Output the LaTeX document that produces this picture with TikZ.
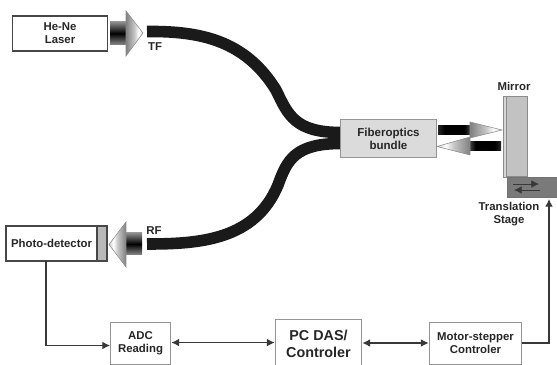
\documentclass[tikz,border=0pt]{standalone}
\usepackage{fontspec}
\usetikzlibrary{arrows.meta}
\setmainfont{Liberation Sans}
\definecolor{FiberBlack}{RGB}{26, 26, 26}
\definecolor{LabelInk}{RGB}{38, 38, 38}
\pgfdeclarehorizontalshading{conehead}{100bp}{color(0bp)=(black!50); color(25bp)=(black!50); color(50bp)=(black!22); color(62bp)=(white); color(72bp)=(black!15); color(75bp)=(black!30); color(100bp)=(black!30)}
\pgfdeclareverticalshading{shaftdark}{100bp}{color(0bp)=(black!45); color(25bp)=(black!45); color(50bp)=(black); color(75bp)=(black!45); color(100bp)=(black!45)}
\pgfdeclarehorizontalshading{shaftthin}{100bp}{color(0bp)=(black); color(25bp)=(black!85); color(35bp)=(black); color(65bp)=(black); color(75bp)=(black!70); color(100bp)=(black!70)}
\tikzset{
  label text/.style={font=\bfseries\fontsize{8.1}{9.3}\selectfont, text=LabelInk, align=center, inner sep=0pt},
  plain box/.style={label text, draw=black!42, line width=0.7pt, fill=white},
  dark box/.style={label text, draw=black!72, line width=1.1pt, fill=white},
  link/.style={draw=black!78, line width=0.75pt},
  fiber/.style={draw=FiberBlack, line width=0.29cm},
  shaft/.style={shading=shaftdark},
  thin shaft/.style={shading=shaftthin},
  cone/.style={draw=black!45, line width=0.4pt, shading=conehead},
}

\begin{document}
\begin{tikzpicture}[x=0.025cm, y=-0.025cm, >={Latex[length=5.5pt,width=5.5pt]}]
  \useasboundingbox (0,0) rectangle (557,365);

  % fibers
  \coordinate (tfend) at (147,31.5);
  \coordinate (rfend) at (147,244);
  \draw[fiber] (tfend) .. controls (200,31) and (245,40) .. (276,90) .. controls (288,115) and (295,132.5) .. (341,132.5);
  \draw[fiber] (rfend) .. controls (200,244) and (255,240) .. (278,185) .. controls (287,160) and (295,143.5) .. (341,143.5);

  % boxes
  \node[dark box, minimum width=2.37cm, minimum height=0.88cm] (laser) at (60,33.5) {He-Ne\\Laser};
  \node[dark box, minimum width=2.27cm, minimum height=0.88cm] (photo) at (51.5,243.5) {Photo-detector};
  \node[draw=black!72, line width=1.1pt, fill=black!28, minimum width=0.25cm, minimum height=0.88cm, inner sep=0pt] (window) at (102,243.5) {};
  \node[plain box, fill=black!14, minimum width=2.42cm, minimum height=0.94cm, font=\bfseries\fontsize{8.2}{9.3}\selectfont] (bundle) at (388.5,138.5) {Fiberoptics\\bundle};
  \node[plain box, minimum width=1.52cm, minimum height=1.05cm] (adc) at (140.5,343) {ADC\\Reading};
  \node[plain box, minimum width=2.17cm, minimum height=1.18cm, font=\bfseries\fontsize{10.2}{12}\selectfont] (pc) at (318.5,343.5) {PC DAS/\\Controler};
  \node[plain box, minimum width=2.32cm, minimum height=1.05cm] (motor) at (475.5,343) {Motor-stepper\\Controler};

  % mirror and stage
  \node[draw=black!45, line width=0.6pt, fill=black!24, minimum width=0.6cm, minimum height=2.02cm, inner sep=0pt] (mirror) at (515,136.5) {};
  \node[draw=black!45, line width=0.3pt, fill=black!16, minimum width=0.07cm, minimum height=2.02cm, inner sep=0pt] (strip) at (504.5,136.5) {};
  \node[draw=black!55, line width=0.5pt, fill=black!52, minimum width=1.3cm, minimum height=0.5cm, inner sep=0pt] (stage) at (533,187) {};
  \coordinate (stageA) at (513,184);
  \coordinate (stageB) at (539,184);
  \coordinate (stageC) at (540,190);
  \coordinate (stageD) at (514,190);
  \draw[link, ->, line width=0.5pt] (stageA) -- (stageB);
  \draw[link, ->, line width=0.5pt] (stageC) -- (stageD);

  % beam arrows
  \shade[shaft] (110,22) rectangle (127,45);
  \path[cone] (126,11) -- (143,33) -- (126,56) -- cycle;
  \shade[shaft] (126,233) rectangle (142,255);
  \path[cone, shading angle=180] (126,222) -- (109,244.5) -- (126,267) -- cycle;
  \shade[thin shaft] (438,126) rectangle (471,135);
  \path[cone] (470,122) -- (502,130) -- (470,138) -- cycle;
  \shade[thin shaft, shading angle=180] (469,142) rectangle (501,151);
  \path[cone, shading angle=180] (470,137) -- (437,146.5) -- (470,155) -- cycle;

  % connectors
  \coordinate (photoout) at (46,261);
  \coordinate (adcin) at (110,345.5);
  \coordinate (stagein) at (549,199);
  \draw[link, ->] (photoout) |- (adcin);
  \draw[link, <->] ([yshift=0.3pt]adc.east) -- ([yshift=0.3pt]pc.west |- adc.east);
  \draw[link, <->] (pc.east |- motor.west) -- (motor.west);
  \draw[link, ->] (motor.east) -| (stagein);

  % labels
  \node[label text] (tf) at (155,46.5) {TF};
  \node[label text] (rf) at (154,231) {RF};
  \node[label text] (mirrorlabel) at (514,86) {Mirror};
  \node[label text] (stagelabel) at (509,214) {Translation\\Stage};
\end{tikzpicture}
\end{document}
